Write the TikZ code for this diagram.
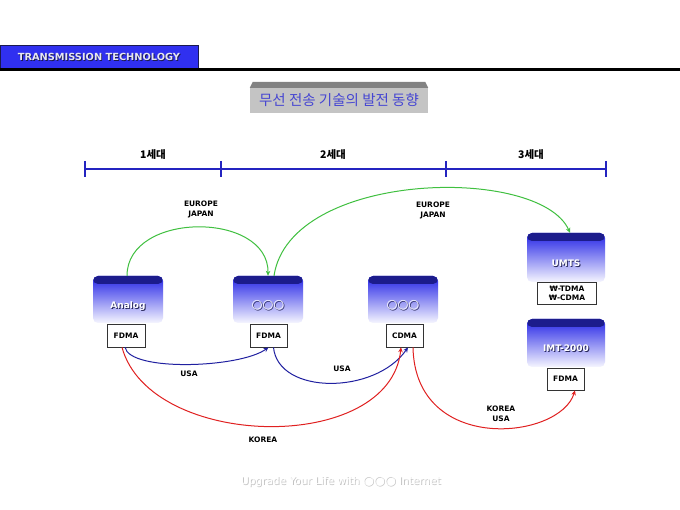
\documentclass[tikz,border=0pt]{standalone}
\usepackage{fontspec}
\setmainfont{DejaVu Sans}
\newfontfamily\kr{Noto Sans CJK KR}
\usetikzlibrary{arrows.meta}
\definecolor{hdrblue}{RGB}{48,48,240}
\definecolor{hdrtext}{RGB}{230,230,242}
\definecolor{hdrshadow}{RGB}{26,26,80}
\definecolor{tbody}{RGB}{196,196,196}
\definecolor{tcap}{RGB}{130,130,130}
\definecolor{ttext}{RGB}{70,70,210}
\definecolor{tlblue}{RGB}{36,36,192}
\definecolor{boxcap}{RGB}{28,28,140}
\definecolor{boxtop}{RGB}{36,36,230}
\definecolor{boxbot}{RGB}{246,246,255}
\definecolor{boxshadow}{RGB}{40,40,90}
\definecolor{grn}{RGB}{64,192,64}
\definecolor{navy}{RGB}{32,32,160}
\definecolor{rd}{RGB}{224,32,32}
\definecolor{footshadow}{RGB}{196,196,196}
\newcommand\shadowed[2]{\leavevmode\rlap{\hspace{0.9pt}\raisebox{-0.9pt}{\textcolor{#1}{#2}}}#2}
\newcommand\circs{{\fontsize{12.5}{12}\selectfont ○○○}}
\newcommand\boxlabel[1]{\raisebox{-9pt}[0pt][0pt]{\shadowed{boxshadow}{#1}}}
\tikzset{
  techbox/.style={rectangle, rounded corners=5pt, minimum height=47pt,
    top color=boxtop, bottom color=boxbot, draw=none, text=white, inner sep=0pt,
    font=\bfseries\fontsize{9}{9}\selectfont,
    path picture={\fill[boxcap] ([yshift=2pt]path picture bounding box.north west)
      rectangle ([yshift=-8pt]path picture bounding box.north east);}},
  tagbox/.style={rectangle, draw=black!80, line width=0.7pt, fill=white, inner sep=0pt,
    minimum height=23pt, align=center, font=\bfseries\fontsize{7.5}{9}\selectfont},
  lbl/.style={align=center, font=\bfseries\fontsize{7.5}{10}\selectfont, inner sep=0pt},
  gen/.style={font=\kr\bfseries\fontsize{10.5}{10}\selectfont, inner sep=0pt},
  conn/.style={line width=1pt, -{Stealth[length=5pt,width=4.5pt]}},
}
\begin{document}
\begin{tikzpicture}[x=1pt,y=-1pt]
\useasboundingbox (0,0) rectangle (680,510);
\fill[white] (0,0) rectangle (680,510);
% header
\node[rectangle, fill=hdrblue, draw=hdrshadow, line width=0.5pt, minimum width=198pt, minimum height=23pt, inner sep=0pt,
  text=hdrtext, font=\bfseries\fontsize{9.8}{10}\selectfont] (hdr) at (99,57) {\shadowed{hdrshadow}{TRANSMISSION TECHNOLOGY}};
\fill[black] (0,68) rectangle (680,71);
% title
\node[rectangle, fill=tbody, minimum width=178pt, minimum height=25pt, inner sep=0pt,
  text=ttext, font=\kr\fontsize{14.5}{14}\selectfont] (title) at (339,100.5) {\raisebox{-1pt}{무선 전송 기술의 발전 동향}};
\fill[tcap] (title.north west) -- ([xshift=3pt,yshift=6pt]title.north west) -- ([xshift=-3pt,yshift=6pt]title.north east) -- (title.north east) -- cycle;
% timeline
\draw[tlblue, line width=1.8pt] (85,169) -- (606,169);
\foreach \tx in {85,221,446,606} \draw[tlblue, line width=1.8pt] (\tx,161) -- (\tx,177);
\node[gen] (g1) at (153,155) {1세대};
\node[gen] (g2) at (333,155) {2세대};
\node[gen] (g3) at (531,155) {3세대};
% technology boxes
\node[techbox, minimum width=70pt] (analog) at (128,299.5) {\boxlabel{Analog}};
\node[techbox, minimum width=70pt] (gen2) at (268,299.5) {\boxlabel{\circs}};
\node[techbox, minimum width=70pt] (gen3) at (403,299.5) {\boxlabel{\circs}};
\node[techbox, minimum width=78pt, minimum height=49pt] (umts) at (566,257.5) {\boxlabel{UMTS}};
\node[techbox, minimum width=78pt, minimum height=48pt] (imt) at (566,343) {\boxlabel{IMT-2000}};
% tags
\node[tagbox, minimum width=38pt] (fd1) at (126,335.5) {FDMA};
\node[tagbox, minimum width=37pt] (fd2) at (268.5,335.5) {FDMA};
\node[tagbox, minimum width=37pt] (cd) at (404.5,335.5) {CDMA};
\node[tagbox, minimum width=59pt, minimum height=22pt] (wb) at (567,293) {₩-TDMA\\₩-CDMA};
\node[tagbox, minimum width=37pt, minimum height=22pt] (fd3) at (565.5,379) {FDMA};
% labels
\node[lbl] (l1) at (201,209) {EUROPE\\JAPAN};
\node[lbl] (l2) at (433,210) {EUROPE\\JAPAN};
\node[lbl] (l3) at (189,374) {USA};
\node[lbl] (l4) at (342,369) {USA};
\node[lbl] (l5) at (263,440) {KOREA};
\node[lbl] (l6) at (501,414) {KOREA\\USA};
% connectors
\draw[conn, grn] ([xshift=-1pt]analog.north) .. controls (127,211) and (269,211) .. (gen2.north);
\draw[conn, grn] ([xshift=6pt]gen2.north) .. controls (290,170) and (540,165) .. ([xshift=4pt]umts.north);
\draw[conn, navy] ([xshift=-1pt]fd1.south) .. controls (130,372) and (240,368) .. (fd2.south);
\draw[conn, navy] ([xshift=5pt]fd2.south) .. controls (278,395) and (375,395) .. ([xshift=3.5pt]cd.south);
\draw[conn, rd] ([xshift=-4pt]fd1.south) .. controls (150,450) and (390,455) .. ([xshift=-3.5pt]cd.south);
\draw[conn, rd] ([xshift=8.5pt]cd.south) .. controls (415,455) and (560,440) .. ([xshift=9.5pt]fd3.south);
% footer
\node[text=white, font=\fontsize{10.5}{11}\selectfont, inner sep=0pt] (foot) at (341,482) {\shadowed{footshadow}{Upgrade Your Life with {\fontsize{12.5}{11}\selectfont ○○○} Internet}};
\end{tikzpicture}
\end{document}
